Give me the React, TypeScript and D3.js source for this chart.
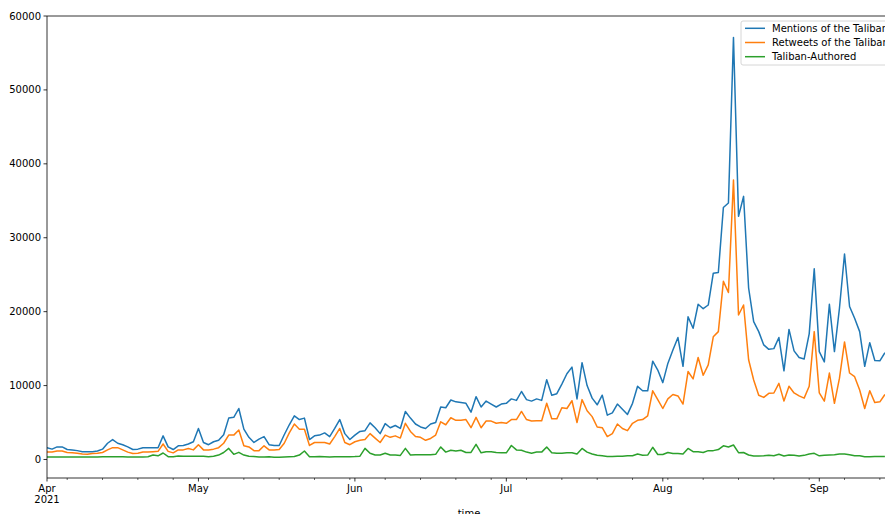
import React from "react";
import * as d3 from "d3";

// daily counts starting 2021-04-01
const startDate = new Date(2021, 3, 1);

const mentions = [
  1600, 1400, 1700, 1700, 1350, 1300, 1200, 1050, 1050, 1050,
  1150, 1400, 2200, 2700, 2200, 2000, 1700, 1350, 1400, 1600,
  1600, 1600, 1600, 3200, 1700, 1350, 1850, 1900, 2100, 2400,
  4200, 2300, 2000, 2400, 2600, 3350, 5600, 5700, 6900, 4100,
  3000, 2300, 2750, 3100, 2000, 1900, 1900, 3350, 4700, 5900,
  5400, 5600, 2700, 3200, 3300, 3600, 3100, 4200, 5400, 3500,
  2700, 3300, 3800, 3900, 4950, 4300, 3500, 4850, 4300, 4600,
  4200, 6500, 5600, 4800, 4400, 4200, 4800, 5000, 7100, 7000,
  8050, 7800, 7700, 7600, 6400, 8500, 7100, 7900, 7500, 7100,
  7500, 7600, 8200, 8000, 9200, 8100, 7900, 8200, 8000, 10800,
  8700, 8900, 10200, 11600, 12500, 8200, 13100, 10000, 8300, 7400,
  8700, 6000, 6300, 7500, 6800, 6100, 7600, 9900, 9300, 9300,
  13300, 12100, 10400, 13000, 14800, 16500, 12600, 19300, 17750, 21000,
  20400, 20900, 25200, 25300, 34100, 34700, 57100, 32900, 35600, 23200,
  18650, 17300, 15500, 14900, 15000, 16500, 12000, 17600, 14700, 13800,
  13600, 17000, 25800, 14600, 13200, 21000, 14600, 20500, 27800, 20700,
  19100, 17300, 12600, 15800, 13400, 13350, 14450,
];

const retweets = [
  1000, 1000, 1150, 1150, 950, 900, 850, 750, 700, 800,
  850, 950, 1300, 1600, 1600, 1300, 1000, 800, 850, 1000,
  1000, 1050, 1100, 2100, 1100, 900, 1300, 1300, 1500, 1300,
  2000, 1300, 1300, 1400, 1600, 2200, 3300, 3300, 4000, 1850,
  1700, 1200, 1200, 1850, 1300, 1300, 1350, 2200, 3600, 4800,
  4100, 4100, 1900, 2300, 2300, 2300, 2100, 3100, 4200, 2300,
  2000, 2400, 2600, 2700, 3500, 2900, 2300, 3300, 3000, 3200,
  2900, 4900, 3800, 3100, 3000, 2600, 2850, 3300, 5100, 4700,
  5650, 5300, 5300, 5400, 4300, 5700, 4300, 5200, 5200, 4900,
  5000, 4900, 5400, 5400, 6500, 5400, 5200, 5250, 5250, 7600,
  5500, 5500, 7000, 6900, 7950, 5000, 8100, 6600, 5800, 4400,
  4300, 3100, 3500, 4800, 4200, 3900, 4900, 5300, 5400, 5900,
  9300, 8100, 6900, 8200, 8800, 8600, 7500, 11900, 10900, 13800,
  11400, 12800, 16600, 17300, 24100, 22600, 37800, 19550, 20900, 13500,
  10750, 8700, 8400, 8950, 9000, 10300, 7900, 9900, 9000, 8600,
  8300, 9900, 17300, 9000, 7900, 11700, 7600, 11000, 15900, 11700,
  11200, 9400, 6900, 9300, 7700, 7800, 8800,
];

const authored = [
  350, 350, 350, 350, 350, 350, 340, 330, 330, 340,
  350, 360, 370, 380, 370, 360, 350, 330, 330, 350,
  380, 600, 500, 880, 380, 380, 480, 450, 430, 430,
  450, 430, 380, 430, 600, 950, 1500, 700, 970, 600,
  450, 400, 350, 350, 380, 320, 320, 350, 370, 400,
  600, 1150, 380, 380, 400, 380, 350, 380, 370, 380,
  370, 400, 450, 1500, 840, 600, 600, 840, 600, 600,
  550, 1500, 600, 650, 650, 650, 650, 700, 1700, 1000,
  1250, 1150, 1250, 950, 950, 2050, 900, 1050, 1050, 950,
  900, 900, 1900, 1300, 1250, 1000, 850, 1000, 1000, 1700,
  900, 850, 850, 900, 900, 750, 1500, 1000, 740, 570,
  500, 420, 420, 450, 450, 500, 500, 740, 570, 600,
  1650, 680, 680, 950, 800, 800, 740, 1500, 1050, 1050,
  950, 1200, 1200, 1350, 1850, 1700, 1960, 920, 950, 610,
  470, 470, 500, 560, 500, 700, 470, 610, 560, 470,
  560, 750, 830, 500, 560, 610, 650, 750, 750, 650,
  500, 500, 380, 380, 400, 400, 420,
];

const seriesNames = ["Mentions of the Taliban", "Retweets of the Taliban", "Taliban-Authored"];
const colors = ["#1f77b4", "#ff7f0e", "#2ca02c"];
const yTicks = [0, 10000, 20000, 30000, 40000, 50000, 60000];

const width = 885;
const height = 514;
const margin = { top: 16, left: 47, bottom: 478, right: 895 };
const font = "DejaVu Sans, sans-serif";

const App = () => {
  const dates = mentions.map((_, i) => d3.timeDay.offset(startDate, i));
  const endDate = d3.timeDay.offset(startDate, 168);

  const x = d3.scaleTime().domain([startDate, endDate]).range([margin.left, margin.right]);
  const y = d3.scaleLinear().domain([-2503, 60000]).range([margin.bottom, margin.top]);

  const line = d3
    .line<number>()
    .x((_, i) => x(dates[i]))
    .y((d) => y(d));

  const series = [mentions, retweets, authored];
  const months = d3.timeMonth.range(startDate, endDate);
  const mondays = d3.timeMonday.range(startDate, endDate);
  const monthFmt = d3.timeFormat("%b");

  return (
    <svg
      width={width}
      height={height}
      style={{ position: "absolute", left: 0, top: 0, background: "#fff" }}
      fontFamily={font}
    >
      <defs>
        <clipPath id="plot">
          <rect x={margin.left} y={margin.top} width={margin.right - margin.left} height={margin.bottom - margin.top} />
        </clipPath>
      </defs>

      <g clipPath="url(#plot)">
        {series.map((s, k) => (
          <path key={k} d={line(s) || ""} fill="none" stroke={colors[k]} strokeWidth={1.5} strokeLinejoin="round" />
        ))}
      </g>

      {/* spines */}
      <g stroke="#000" strokeWidth={0.8} fill="none">
        <line x1={margin.left} x2={margin.left} y1={margin.top} y2={margin.bottom} />
        <line x1={margin.left} x2={margin.right} y1={margin.bottom} y2={margin.bottom} />
        <line x1={margin.left} x2={margin.right} y1={margin.top} y2={margin.top} />
      </g>

      {/* y axis */}
      {yTicks.map((t) => (
        <g key={t}>
          <line x1={margin.left - 3.5} x2={margin.left} y1={y(t)} y2={y(t)} stroke="#000" strokeWidth={0.8} />
          <text x={margin.left - 6} y={y(t)} dy="0.35em" textAnchor="end" fontSize={10} fill="#000">
            {t}
          </text>
        </g>
      ))}

      {/* x axis */}
      {mondays.map((d, i) => (
        <line key={i} x1={x(d)} x2={x(d)} y1={margin.bottom} y2={margin.bottom + 2} stroke="#000" strokeWidth={0.6} />
      ))}
      {months.map((d, i) => (
        <g key={i}>
          <line x1={x(d)} x2={x(d)} y1={margin.bottom} y2={margin.bottom + 3.5} stroke="#000" strokeWidth={0.8} />
          <text x={x(d)} y={margin.bottom + 14} textAnchor="middle" fontSize={10} fill="#000">
            {monthFmt(d)}
          </text>
          {i === 0 && (
            <text x={x(d)} y={margin.bottom + 25} textAnchor="middle" fontSize={10} fill="#000">
              2021
            </text>
          )}
        </g>
      ))}
      <text x={469} y={517} textAnchor="middle" fontSize={10} fill="#000">
        time
      </text>

      {/* legend */}
      <g>
        <rect x={741} y={21} width={150} height={44} rx={2} fill="#fff" fillOpacity={0.8} stroke="#cccccc" strokeWidth={0.8} />
        {seriesNames.map((name, k) => (
          <g key={name} transform={`translate(0,${28.3 + k * 14.2})`}>
            <line x1={745} x2={765} y1={0} y2={0} stroke={colors[k]} strokeWidth={1.5} />
            <text x={772} y={0} dy="0.35em" fontSize={10} fill="#000">
              {name}
            </text>
          </g>
        ))}
      </g>
    </svg>
  );
};

export default App;
